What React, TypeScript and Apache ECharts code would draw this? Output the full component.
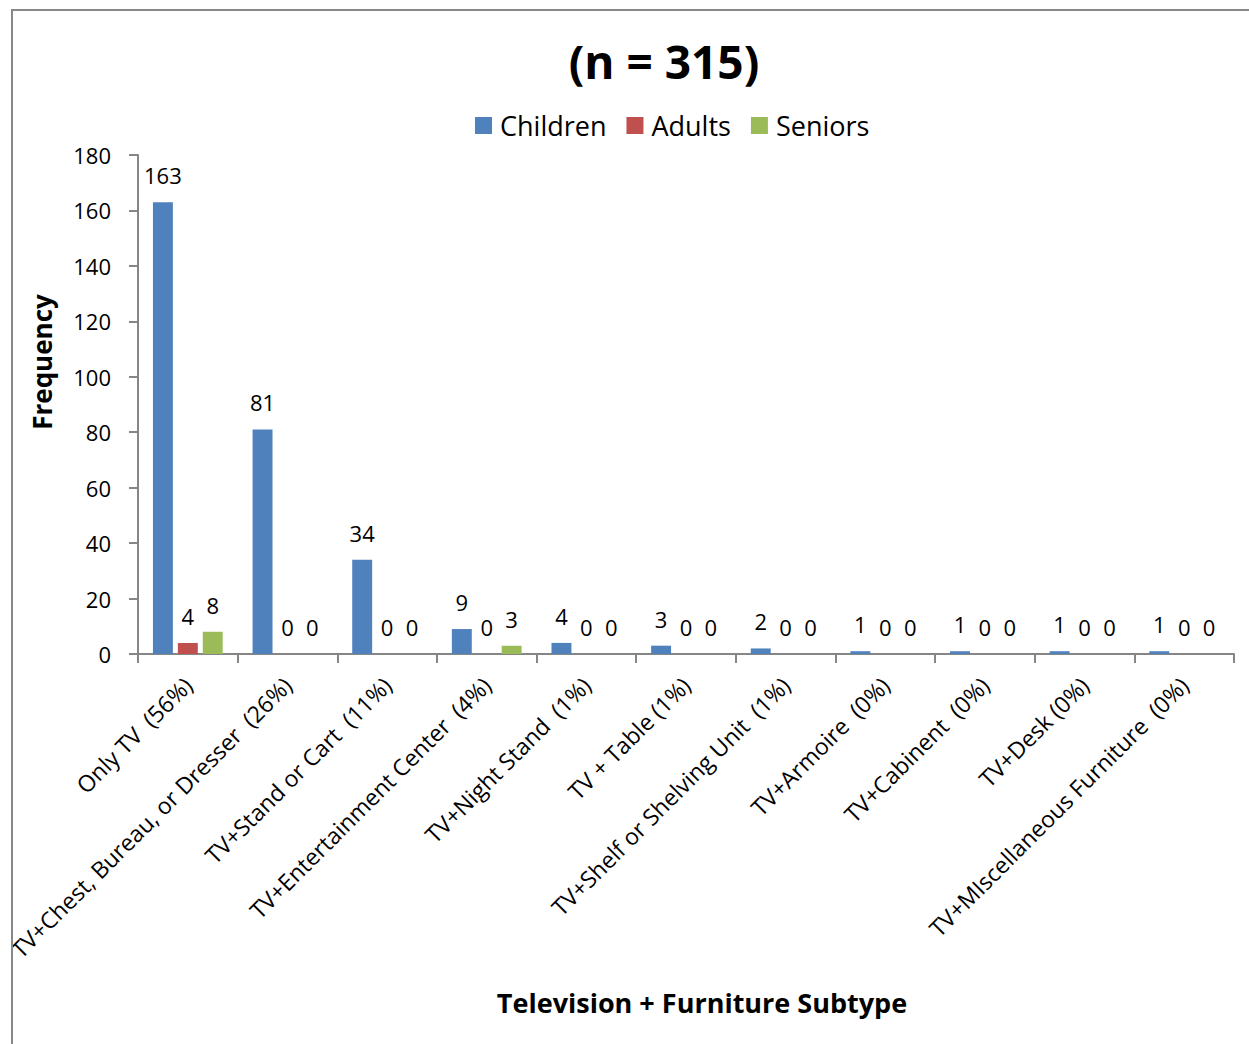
import React, { useEffect, useRef } from "react";
import * as echarts from "echarts";

const categories = [
  "Only TV\u00A0 (56%)",
  "TV+Chest, Bureau, or Dresser\u00A0 (26%)",
  "TV+Stand or Cart\u00A0 (11%)",
  "TV+Entertainment Center\u00A0 (4%)",
  "TV+Night Stand\u00A0 (1%)",
  "TV + Table (1%)",
  "TV+Shelf or Shelving Unit\u00A0 (1%)",
  "TV+Armoire\u00A0 (0%)",
  "TV+Cabinent\u00A0 (0%)",
  "TV+Desk (0%)",
  "TV+MIscellaneous Furniture\u00A0 (0%)",
];
const children = [163, 81, 34, 9, 4, 3, 2, 1, 1, 1, 1];
const adults = [4, 0, 0, 0, 0, 0, 0, 0, 0, 0, 0];
const seniors = [8, 0, 0, 3, 0, 0, 0, 0, 0, 0, 0];

const FONT = "'Open Sans', Calibri, sans-serif";

export default function App() {
  const ref = useRef<HTMLDivElement>(null);
  useEffect(() => {
    if (!ref.current) return;
    const chart = echarts.init(ref.current, null, { renderer: "svg" });
    const label = {
      show: true,
      position: "top",
      distance: 16,
      fontFamily: FONT,
      fontSize: 22,
      color: "#000",
    };
    const mk = (name: string, data: number[], color: string) => ({
      name,
      type: "bar",
      data,
      barGap: "25%",
      barCategoryGap: "30%",
      itemStyle: { color },
      label,
    });
    chart.setOption({
      animation: false,
      textStyle: { fontFamily: FONT },
      legend: {
        data: ["Children", "Adults", "Seniors"],
        left: 470,
        top: 107,
        itemWidth: 17,
        itemHeight: 17,
        itemGap: 20,
        icon: "rect",
        textStyle: { fontFamily: FONT, fontSize: 27, color: "#000", padding: [0, 0, 0, 3] },
      },
      grid: { left: 138, right: 15, top: 155, bottom: 390, containLabel: false },
      xAxis: {
        type: "category",
        data: categories,
        axisLine: { lineStyle: { color: "#868686", width: 2 } },
        axisTick: { show: true, interval: 0, length: 9, alignWithLabel: false, lineStyle: { color: "#868686", width: 2 } },
        axisLabel: {
          interval: 0,
          rotate: 45,
          margin: 27,
          fontFamily: FONT,
          fontSize: 23,
          color: "#000",
        },
      },
      yAxis: {
        type: "value",
        min: 0,
        max: 180,
        interval: 20,
        axisLine: { show: true, lineStyle: { color: "#868686", width: 2 } },
        axisTick: { show: true, length: 9, lineStyle: { color: "#868686", width: 2 } },
        splitLine: { show: false },
        axisLabel: { fontFamily: FONT, fontSize: 22, color: "#000", margin: 27 },
      },
      series: [
        mk("Children", children, "#4F81BD"),
        mk("Adults", adults, "#C0504D"),
        mk("Seniors", seniors, "#9BBB59"),
      ],
      graphic: [
        {
          type: "text",
          x: 664,
          y: 61,
          style: {
            text: "(n = 315)",
            fontFamily: FONT,
            fontSize: 46,
            fontWeight: "bold",
            fill: "#000",
            textAlign: "center",
            textVerticalAlign: "middle",
          },
        },
        {
          type: "text",
          x: 42,
          y: 362,
          rotation: Math.PI / 2,
          style: {
            text: "Frequency",
            fontFamily: FONT,
            fontSize: 26,
            fontWeight: "bold",
            fill: "#000",
            textAlign: "center",
            textVerticalAlign: "middle",
          },
        },
        {
          type: "text",
          x: 702,
          y: 1002,
          style: {
            text: "Television + Furniture Subtype",
            fontFamily: FONT,
            fontSize: 27,
            fontWeight: "bold",
            fill: "#000",
            textAlign: "center",
            textVerticalAlign: "middle",
          },
        },
        { type: "rect", z: 100, shape: { x: 0, y: 0, width: 11, height: 1044 }, style: { fill: "#fff" } },
        { type: "rect", z: 100, shape: { x: 0, y: 0, width: 1249, height: 9 }, style: { fill: "#fff" } },
        {
          type: "rect",
          z: 101,
          shape: { x: 12, y: 10, width: 1300, height: 1100 },
          style: { fill: "none", stroke: "#888", lineWidth: 2 },
        },
      ],
    });
    return () => chart.dispose();
  }, []);
  return (
    <div
      ref={ref}
      style={{ position: "absolute", left: 0, top: 0, width: 1249, height: 1044, background: "#fff" }}
    />
  );
}
